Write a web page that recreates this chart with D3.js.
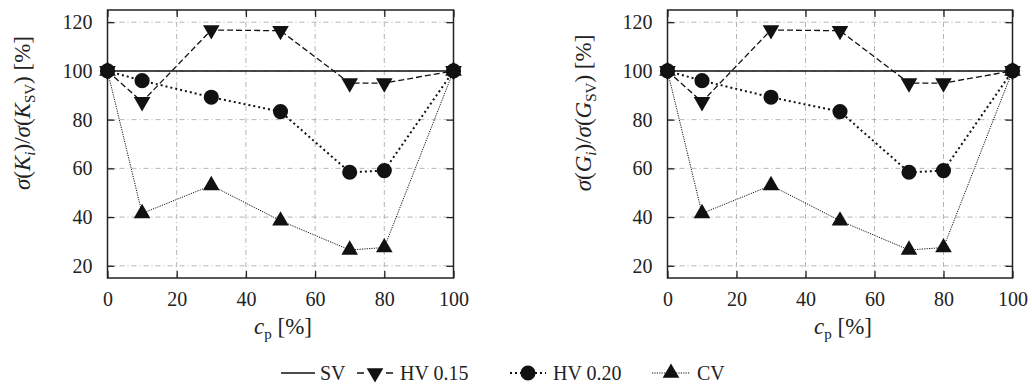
<!DOCTYPE html>
<html>
<head>
<meta charset="utf-8">
<script src="https://cdn.jsdelivr.net/npm/d3@7"></script>
<style>
  body { margin: 0; background: #fff; }
  svg text { font-family: "Liberation Serif", "Times New Roman", serif; }
</style>
</head>
<body>
<script>
    // data (both panels show the same values)
    const cp = [0, 10, 30, 50, 70, 80, 100];
    const hv15 = [100, 87.3, 116.8, 116.5, 95, 95, 100];
    const hv20 = [100, 96, 89.2, 83.3, 58.4, 59.1, 100];
    const cv = [100, 41.5, 53, 38.5, 26.5, 27.5, 100];
    const svX = [0, 100];
    const svY = [100, 100];
    const xTicks = [0, 20, 40, 60, 80, 100];
    const yTicks = [20, 40, 60, 80, 100, 120];
    const panelSymbols = ["K", "G"];

    const width = 1032;
    const height = 389;
    const serif = '"Liberation Serif", "Times New Roman", serif';

    const svg = d3.select("body")
      .append("svg")
      .attr("width", width)
      .attr("height", height);

    const panels = [
      { left: 107.5, right: 453.5, ylabX: 30, xlabX: 283 },
      { left: 667.5, right: 1012.5, ylabX: 591, xlabX: 843 }
    ];
    const plotTop = 10, plotBottom = 278;

    const series = [
      { name: "HV 0.15", y: hv15, dash: "6,3", width: 1.3, marker: "down" },
      { name: "HV 0.20", y: hv20, dash: "2,3", width: 2, marker: "circle" },
      { name: "CV", y: cv, dash: "1.2,1.2", width: 1, marker: "up" }
    ];

    function markerPath(type) {
      if (type === "circle") return d3.symbol(d3.symbolCircle, 180)();
      return d3.symbol(d3.symbolTriangle, 120)();
    }

    function drawMarker(g, type, x, y) {
      g.append("path")
        .attr("d", markerPath(type))
        .attr("fill", "#111")
        .attr("transform", `translate(${x},${y})` + (type === "down" ? " rotate(180)" : ""));
    }

    panels.forEach((p, pi) => {
      const x = d3.scaleLinear().domain([0, 100]).range([p.left, p.right]);
      const y = d3.scaleLinear().domain([15, 125]).range([plotBottom, plotTop]);
      const g = svg.append("g");

      // grid
      g.selectAll(".hgrid").data(yTicks).enter().append("line")
        .attr("x1", p.left).attr("x2", p.right)
        .attr("y1", d => y(d)).attr("y2", d => y(d))
        .attr("stroke", "#b4b4b4").attr("stroke-width", 1)
        .attr("stroke-dasharray", "5,3,1,3");
      g.selectAll(".vgrid").data(xTicks.slice(1, -1)).enter().append("line")
        .attr("x1", d => x(d)).attr("x2", d => x(d))
        .attr("y1", plotTop).attr("y2", plotBottom)
        .attr("stroke", "#b4b4b4").attr("stroke-width", 1)
        .attr("stroke-dasharray", "5,3,1,3");

      // axes with inward ticks on all sides
      const axL = g.append("g").attr("transform", `translate(${p.left},0)`)
        .call(d3.axisLeft(y).tickValues(yTicks).tickSize(-7).tickPadding(15));
      const axR = g.append("g").attr("transform", `translate(${p.right},0)`)
        .call(d3.axisRight(y).tickValues(yTicks).tickSize(-7).tickFormat(""));
      const axB = g.append("g").attr("transform", `translate(0,${plotBottom})`)
        .call(d3.axisBottom(x).tickValues(xTicks).tickSize(-7).tickPadding(14));
      const axT = g.append("g").attr("transform", `translate(0,${plotTop})`)
        .call(d3.axisTop(x).tickValues(xTicks).tickSize(-7).tickFormat(""));
      [axL, axR, axB, axT].forEach(a => {
        a.attr("font-family", null).attr("font-size", null);
        a.select(".domain").remove();
        a.selectAll("line").attr("stroke", "#222").attr("stroke-width", 1.3);
        a.selectAll("text").attr("fill", "#222")
          .style("font-family", serif).style("font-size", "20px");
      });

      // frame
      g.append("rect")
        .attr("x", p.left).attr("y", plotTop)
        .attr("width", p.right - p.left).attr("height", plotBottom - plotTop)
        .attr("fill", "none").attr("stroke", "#222").attr("stroke-width", 1.5);

      // SV reference line
      g.append("path")
        .attr("d", d3.line().x(d => x(d[0])).y(d => y(d[1]))(d3.zip(svX, svY)))
        .attr("fill", "none").attr("stroke", "#111").attr("stroke-width", 1.5);

      // series lines then markers
      series.forEach(s => {
        const pts = d3.zip(cp, s.y);
        g.append("path")
          .attr("d", d3.line().x(d => x(d[0])).y(d => y(d[1]))(pts))
          .attr("fill", "none").attr("stroke", "#111")
          .attr("stroke-width", s.width).attr("stroke-dasharray", s.dash);
      });
      series.forEach(s => {
        d3.zip(cp, s.y).forEach(d => drawMarker(g, s.marker, x(d[0]), y(d[1])));
      });

      // y label
      const sym = panelSymbols[pi];
      const yl = g.append("text")
        .attr("transform", `translate(${p.ylabX},${113}) rotate(-90)`)
        .attr("text-anchor", "middle")
        .style("font-family", serif)
        .style("font-size", "23px").attr("fill", "#222");
      yl.append("tspan").style("font-style", "italic").text("σ");
      yl.append("tspan").text("(");
      yl.append("tspan").style("font-style", "italic").text(sym);
      yl.append("tspan").style("font-style", "italic").style("font-size", "15px").attr("dy", 5).text("i");
      yl.append("tspan").attr("dy", -5).text(")/");
      yl.append("tspan").style("font-style", "italic").text("σ");
      yl.append("tspan").text("(");
      yl.append("tspan").style("font-style", "italic").text(sym);
      yl.append("tspan").style("font-size", "15px").attr("dy", 5).text("SV");
      yl.append("tspan").attr("dy", -5).text(") [%]");

      // x label
      const xl = g.append("text")
        .attr("x", p.xlabX).attr("y", 334)
        .attr("text-anchor", "middle")
        .style("font-family", serif)
        .style("font-size", "23px").attr("fill", "#222");
      xl.append("tspan").style("font-style", "italic").text("c");
      xl.append("tspan").style("font-size", "15px").attr("dy", 5).text("p");
      xl.append("tspan").attr("dy", -5).text(" [%]");
    });

    // legend
    const legend = svg.append("g").attr("transform", "translate(0,373)");
    const legendItems = [
      { name: "SV", x0: 281, x1: 315, mx: null, tx: 320, dash: null, width: 1.3, marker: null },
      { name: "HV 0.15", x0: 357, x1: 393, mx: 375, tx: 400, dash: "7,22,7", width: 1.3, marker: "down" },
      { name: "HV 0.20", x0: 510, x1: 546, mx: 528, tx: 553, dash: "2,3", width: 2, marker: "circle" },
      { name: "CV", x0: 652, x1: 690, mx: 671, tx: 697, dash: "1.2,1.2", width: 1, marker: "up" }
    ];
    legendItems.forEach(it => {
      legend.append("line")
        .attr("x1", it.x0).attr("x2", it.x1)
        .attr("y1", 0).attr("y2", 0)
        .attr("stroke", "#111").attr("stroke-width", it.width)
        .attr("stroke-dasharray", it.dash);
      if (it.marker) drawMarker(legend, it.marker, it.mx, 0);
      legend.append("text")
        .attr("x", it.tx).attr("y", 7)
        .style("font-family", serif)
        .style("font-size", "20px").attr("fill", "#222")
        .text(it.name);
    });
</script>
</body>
</html>
